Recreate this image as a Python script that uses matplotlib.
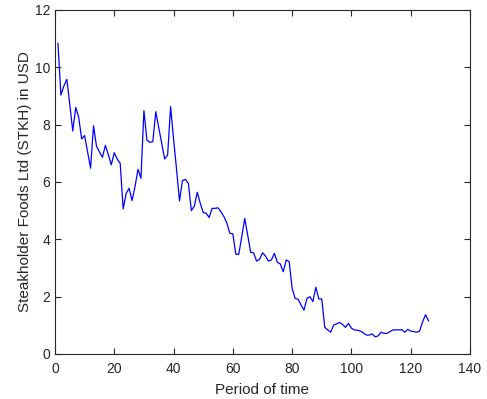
import numpy as np
import matplotlib.pyplot as plt

plt.rcParams['font.family'] = ['Liberation Sans', 'DejaVu Sans']

# daily closing price of STKH, one value per period
period = np.arange(1, 127)
price = [
    10.84, 9.03, 9.35, 9.58, 8.70, 7.78, 8.60, 8.26, 7.50, 7.62,
    7.05, 6.48, 7.96, 7.25, 7.05, 6.86, 7.28, 6.95, 6.60, 7.02,
    6.80, 6.65, 5.06, 5.60, 5.78, 5.35, 5.84, 6.44, 6.13, 8.49,
    7.46, 7.38, 7.41, 8.45, 7.90, 7.35, 6.80, 6.94, 8.63, 7.50,
    6.45, 5.34, 6.05, 6.09, 5.95, 5.00, 5.16, 5.64, 5.26, 4.93,
    4.91, 4.76, 5.08, 5.08, 5.10, 4.96, 4.79, 4.56, 4.21, 4.19,
    3.48, 3.48, 4.09, 4.73, 4.15, 3.55, 3.53, 3.24, 3.30, 3.53,
    3.42, 3.24, 3.28, 3.51, 3.20, 3.14, 2.87, 3.28, 3.22, 2.29,
    1.94, 1.91, 1.71, 1.53, 1.94, 2.00, 1.83, 2.33, 1.92, 1.92,
    0.93, 0.84, 0.76, 1.01, 1.05, 1.10, 1.03, 0.93, 1.07, 0.90,
    0.84, 0.83, 0.80, 0.74, 0.66, 0.66, 0.70, 0.60, 0.63, 0.76,
    0.72, 0.72, 0.78, 0.84, 0.84, 0.84, 0.85, 0.76, 0.86, 0.80,
    0.78, 0.76, 0.80, 1.12, 1.37, 1.16,
]

fig = plt.figure(figsize=(4.87, 3.99), dpi=100)
ax = fig.add_axes([0.1129, 0.1128, 0.8522, 0.8622])
ax.plot(period, price, color='#0000ff', linewidth=0.9)

ax.set_xlim(0, 140)
ax.set_ylim(0, 12)
ax.set_xticks(np.arange(0, 141, 20))
ax.set_yticks(np.arange(0, 13, 2))

edge = '#262626'
for s in ax.spines.values():
    s.set_color(edge)
    s.set_linewidth(0.8)
ax.tick_params(direction='in', top=True, right=True, length=4,
               width=0.8, colors=edge, labelsize=10, labelcolor=edge)
ax.tick_params(axis='x', pad=6)

ax.set_xlabel('Period of time', fontsize=11, color=edge, labelpad=5)
ax.set_ylabel('Steakholder Foods Ltd (STKH) in USD', fontsize=11,
              color=edge, labelpad=2)

fig.savefig('out.png', dpi=100)
